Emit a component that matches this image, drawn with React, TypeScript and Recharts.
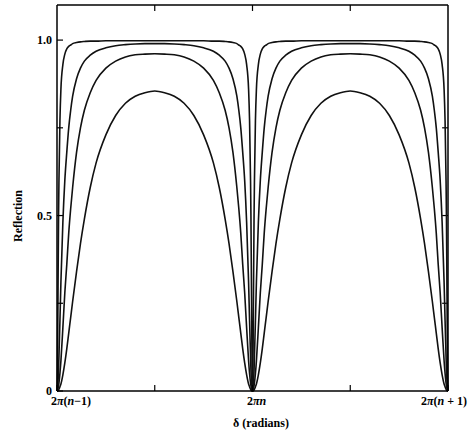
import { LineChart, Line, XAxis, YAxis, Label, ReferenceLine } from "recharts";

// fraction of one period (2π) measured from a minimum, first half of a hump
const halfSteps = [0, 0.002, 0.005, 0.008, 0.01, 0.015, 0.02, 0.03, 0.04, 0.05, 0.06, 0.07, 0.08, 0.1, 0.12, 0.14, 0.17, 0.2, 0.25, 0.3, 0.35, 0.4, 0.45, 0.5];

// reflection values, highest finesse first
const curveA = [0, 0.05, 0.27, 0.5, 0.6, 0.77, 0.86, 0.93, 0.96, 0.975, 0.982, 0.986, 0.99, 0.993, 0.995, 0.996, 0.997, 0.997, 0.998, 0.998, 0.998, 0.998, 0.998, 0.998];
const curveB = [0, 0.004, 0.025, 0.06, 0.1, 0.2, 0.31, 0.48, 0.6, 0.68, 0.75, 0.8, 0.84, 0.89, 0.92, 0.94, 0.957, 0.968, 0.978, 0.984, 0.987, 0.989, 0.99, 0.99];
const curveC = [0, 0.001, 0.006, 0.015, 0.023, 0.05, 0.086, 0.18, 0.28, 0.36, 0.45, 0.52, 0.58, 0.68, 0.75, 0.8, 0.85, 0.885, 0.92, 0.94, 0.952, 0.958, 0.96, 0.961];
const curveD = [0, 0, 0.001, 0.003, 0.005, 0.012, 0.02, 0.046, 0.08, 0.12, 0.165, 0.21, 0.255, 0.34, 0.42, 0.49, 0.58, 0.65, 0.73, 0.785, 0.82, 0.84, 0.85, 0.855];

const periods = [0, 1];
const xTicks = [0, 0.5, 1, 1.5, 2];
const topTicks = [0.5, 1, 1.5];
const yTicks = [0, 0.25, 0.5, 0.75, 1.0];
const rightTicks = [0.25, 0.5, 0.75];
const yLabels: Record<number, string> = { 0: "0", 0.5: "0.5", 1: "1.0" };

const X_MAX = 2;
const Y_MAX = 1.1;
// inward tick length on the top / right frame, in data units (about 6px)
const TICK_Y = 0.017;
const TICK_X = 0.03;

type Row = { x: number; a: number; b: number; c: number; d: number };

const data: Row[] = [];
periods.forEach((p) => {
  const n = halfSteps.length;
  for (let i = p === 0 ? 0 : 1; i < n; i++) {
    data.push({ x: p + halfSteps[i], a: curveA[i], b: curveB[i], c: curveC[i], d: curveD[i] });
  }
  for (let i = n - 2; i >= 0; i--) {
    data.push({ x: p + 1 - halfSteps[i], a: curveA[i], b: curveB[i], c: curveC[i], d: curveD[i] });
  }
});

const font = "'Liberation Serif', 'DejaVu Serif', serif";

function XTick(props: any) {
  const { x, y, payload } = props;
  const v = payload.value;
  const shift = v === 0 ? 14 : v === 2 ? -4 : 4;
  const style = { fontFamily: font, fontWeight: 700, fontSize: 12, fill: "#000" };
  if (v === 0) {
    return (
      <text x={x + shift} y={y + 10} textAnchor="middle" style={style}>
        2<tspan fontStyle="italic">π</tspan>(<tspan fontStyle="italic">n</tspan>−1)
      </text>
    );
  }
  if (v === 1) {
    return (
      <text x={x + shift} y={y + 10} textAnchor="middle" style={style}>
        2<tspan fontStyle="italic">πn</tspan>
      </text>
    );
  }
  if (v === 2) {
    return (
      <text x={x + shift} y={y + 10} textAnchor="middle" style={style}>
        2<tspan fontStyle="italic">π</tspan>(<tspan fontStyle="italic">n</tspan> + 1)
      </text>
    );
  }
  return <g />;
}

export default function App() {
  const lineProps = {
    type: "monotone" as const,
    stroke: "#111",
    strokeWidth: 1.6,
    dot: false,
    isAnimationActive: false,
  };
  return (
    <div style={{ position: "absolute", left: 0, top: 0 }}>
      <LineChart width={476} height={433} data={data} margin={{ top: 4, right: 27, left: 0, bottom: 0 }}>
        <XAxis
          dataKey="x"
          type="number"
          domain={[0, X_MAX]}
          ticks={xTicks}
          height={42}
          tickSize={-6}
          tickMargin={10}
          axisLine={{ stroke: "#000", strokeWidth: 1.5 }}
          tickLine={{ stroke: "#000", strokeWidth: 1.2 }}
          tick={<XTick />}
          interval={0}
        >
          <Label
            content={() => (
              <text x={261} y={427} textAnchor="middle" style={{ fontFamily: font, fontWeight: 700, fontSize: 12, fill: "#000" }}>
                δ (radians)
              </text>
            )}
          />
        </XAxis>
        <XAxis
          xAxisId="top"
          dataKey="x"
          orientation="top"
          type="number"
          domain={[0, X_MAX]}
          ticks={topTicks}
          height={1}
          tick={false}
          tickLine={false}
          axisLine={{ stroke: "#000", strokeWidth: 1.5 }}
        />
        <YAxis
          type="number"
          domain={[0, Y_MAX]}
          ticks={yTicks}
          width={57}
          tickSize={-6}
          tickMargin={11}
          interval={0}
          tickFormatter={(v: number) => yLabels[v] ?? ""}
          tick={{ fontFamily: font, fontWeight: 700, fontSize: 12, fill: "#000" }}
          axisLine={{ stroke: "#000", strokeWidth: 1.5 }}
          tickLine={{ stroke: "#000", strokeWidth: 1.2 }}
        >
          <Label
            content={() => (
              <text
                x={22}
                y={216}
                transform="rotate(-90 22 216)"
                textAnchor="middle"
                style={{ fontFamily: font, fontWeight: 700, fontSize: 12, fill: "#000" }}
              >
                Reflection
              </text>
            )}
          />
        </YAxis>
        <YAxis
          yAxisId="right"
          orientation="right"
          type="number"
          domain={[0, Y_MAX]}
          ticks={rightTicks}
          width={1}
          tick={false}
          tickLine={false}
          axisLine={{ stroke: "#000", strokeWidth: 1.5 }}
        />
        {topTicks.map((t) => (
          <ReferenceLine
            key={`top-${t}`}
            segment={[{ x: t, y: Y_MAX }, { x: t, y: Y_MAX - TICK_Y }]}
            ifOverflow="visible"
            stroke="#000"
            strokeWidth={1.2}
          />
        ))}
        {rightTicks.map((t) => (
          <ReferenceLine
            key={`right-${t}`}
            segment={[{ x: X_MAX - TICK_X, y: t }, { x: X_MAX, y: t }]}
            ifOverflow="visible"
            stroke="#000"
            strokeWidth={1.2}
          />
        ))}
        <Line dataKey="d" {...lineProps} />
        <Line dataKey="c" {...lineProps} />
        <Line dataKey="b" {...lineProps} />
        <Line dataKey="a" {...lineProps} />
        {/* invisible copy so the frame axes on top and right get drawn */}
        <Line dataKey="a" xAxisId="top" yAxisId="right" {...lineProps} stroke="none" />
      </LineChart>
    </div>
  );
}
